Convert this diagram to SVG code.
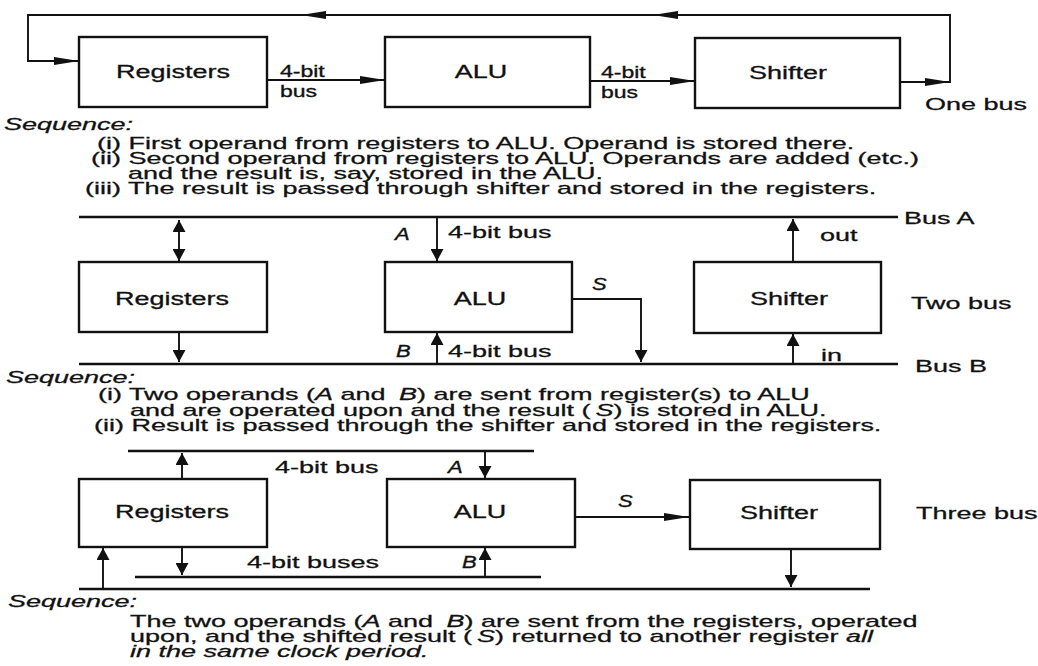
<svg xmlns="http://www.w3.org/2000/svg" width="1038" height="666" viewBox="0 0 1038 666">
  <style>
    .box { fill: #fff; stroke: #111; stroke-width: 2.4; }
    .ln { fill: none; stroke: #111; stroke-width: 1.9; }
    .bus { fill: none; stroke: #111; stroke-width: 2.3; }
    .ha { marker-end: url(#ah); }
    .va { marker-end: url(#av); }
    .t { font-family: "Liberation Sans", Arial, Helvetica, sans-serif; font-size: 27px; fill: #111; stroke: #111; stroke-width: 0.45; }
    .s { font-size: 23px; }
    .v { font-size: 22px; font-style: italic; }
    .i { font-style: italic; }
    .m { text-anchor: middle; }
  </style>
  <defs>
    <!-- long, narrow head for horizontal runs -->
    <marker id="ah" viewBox="0 0 25 8" refX="25" refY="4" markerWidth="25" markerHeight="8" markerUnits="userSpaceOnUse" orient="auto">
      <path d="M0 0 L25 4 L0 8 Z" fill="#111"/>
    </marker>
    <!-- short, broad head for vertical runs -->
    <marker id="av" viewBox="0 0 12 13" refX="12" refY="6.5" markerWidth="12" markerHeight="13" markerUnits="userSpaceOnUse" orient="auto-start-reverse">
      <path d="M0 0 L12 6.5 L0 13 Z" fill="#111"/>
    </marker>
  </defs>

  <rect width="1038" height="666" fill="#fff"/>

  <!-- ===== One-bus organisation ===== -->
  <g id="one-registers">
    <rect class="box" x="79" y="37" width="188" height="70"/>
    <text class="t m" transform="translate(173 78) scale(1 .66)">Registers</text>
  </g>
  <g id="one-alu">
    <rect class="box" x="385" y="37" width="205" height="70"/>
    <text class="t m" transform="translate(481 78) scale(1 .66)">ALU</text>
  </g>
  <g id="one-shifter">
    <rect class="box" x="695" y="38" width="205" height="70"/>
    <text class="t m" transform="translate(788 79) scale(1 .66)">Shifter</text>
  </g>

  <!-- ===== Two-bus organisation ===== -->
  <g id="two-registers">
    <rect class="box" x="79" y="262" width="188" height="70"/>
    <text class="t m" transform="translate(172 305) scale(1 .66)">Registers</text>
  </g>
  <g id="two-alu">
    <rect class="box" x="385" y="262" width="187" height="70"/>
    <text class="t m" transform="translate(480 305) scale(1 .66)">ALU</text>
  </g>
  <g id="two-shifter">
    <rect class="box" x="694" y="262" width="187" height="71"/>
    <text class="t m" transform="translate(789 305) scale(1 .66)">Shifter</text>
  </g>

  <!-- ===== Three-bus organisation ===== -->
  <g id="three-registers">
    <rect class="box" x="79" y="479" width="188" height="68"/>
    <text class="t m" transform="translate(172 518) scale(1 .66)">Registers</text>
  </g>
  <g id="three-alu">
    <rect class="box" x="387" y="479" width="188" height="68"/>
    <text class="t m" transform="translate(480 518) scale(1 .66)">ALU</text>
  </g>
  <g id="three-shifter">
    <rect class="box" x="690" y="480" width="190" height="69"/>
    <text class="t m" transform="translate(779 519) scale(1 .66)">Shifter</text>
  </g>

  <!-- ===== Buses and data paths ===== -->
  <g id="connectors">
    <!-- one bus: loop back to the registers -->
    <path class="ln ha" d="M267 80 H385"/>
    <path class="ln ha" d="M590 81 H695"/>
    <path class="ln ha" d="M900 82 H950"/>
    <path class="ln ha" d="M950 83 V15 H653"/>
    <path class="ln ha" d="M653 15 H301"/>
    <path class="ln ha" d="M301 15 H28 V61 H79"/>

    <!-- two bus -->
    <path class="bus" d="M79 217 H898"/>
    <path class="bus" d="M79 364 H898"/>
    <path class="ln va" d="M179 220 V261" style="marker-start:url(#av)"/>
    <path class="ln va" d="M179 332 V362"/>
    <path class="ln va" d="M437 217 V261"/>
    <path class="ln va" d="M437 364 V333"/>
    <path class="ln va" d="M572 299 H641 V362"/>
    <path class="ln va" d="M793 262 V219"/>
    <path class="ln va" d="M793 364 V334"/>

    <!-- three bus -->
    <path class="bus" d="M128 451 H534"/>
    <path class="bus" d="M135 577 H541"/>
    <path class="bus" d="M79 589 H870"/>
    <path class="ln va" d="M182 479 V453"/>
    <path class="ln va" d="M485 451 V478"/>
    <path class="ln ha" d="M575 517 H689"/>
    <path class="ln va" d="M182 547 V575"/>
    <path class="ln va" d="M485 577 V548"/>
    <path class="ln va" d="M103 589 V548"/>
    <path class="ln va" d="M791 549 V587"/>
  </g>

  <!-- ===== Path and bus labels ===== -->
  <g id="labels">
    <text class="t s" transform="translate(280 77) scale(1 .68)">4-bit</text>
    <text class="t s" transform="translate(280 97) scale(1 .68)">bus</text>
    <text class="t s" transform="translate(601 78) scale(1 .68)">4-bit</text>
    <text class="t s" transform="translate(601 98) scale(1 .68)">bus</text>
    <text class="t" transform="translate(925 110) scale(1 .6)">One bus</text>

    <text class="t v" transform="translate(395 240) scale(1 .75)">A</text>
    <text class="t" transform="translate(448 238) scale(1 .6)">4-bit bus</text>
    <text class="t v" transform="translate(396 357) scale(1 .75)">B</text>
    <text class="t" transform="translate(448 357) scale(1 .6)">4-bit bus</text>
    <text class="t v" transform="translate(592 290) scale(1 .75)">S</text>
    <text class="t" transform="translate(820 241) scale(1 .6)">out</text>
    <text class="t" transform="translate(821 361) scale(1 .6)">in</text>
    <text class="t" transform="translate(904 224) scale(1 .6)">Bus A</text>
    <text class="t" transform="translate(911 309) scale(1 .6)">Two bus</text>
    <text class="t" transform="translate(915 372) scale(1 .6)">Bus B</text>

    <text class="t" transform="translate(275 473) scale(1 .6)">4-bit bus</text>
    <text class="t v" transform="translate(448 473) scale(1 .75)">A</text>
    <text class="t v" transform="translate(618 507) scale(1 .75)">S</text>
    <text class="t" transform="translate(247 568) scale(1 .6)">4-bit buses</text>
    <text class="t v" transform="translate(462 568) scale(1 .75)">B</text>
    <text class="t" transform="translate(916 519) scale(1 .6)">Three bus</text>
  </g>

  <!-- ===== Operating sequences ===== -->
  <g id="notes">
    <text class="t i" transform="translate(4 130) scale(1 .6)">Sequence:</text>
    <text class="t" transform="translate(97 149) scale(1 .6)">(i) First operand from registers to ALU. Operand is stored there.</text>
    <text class="t" transform="translate(91 164) scale(1 .6)">(ii) Second operand from registers to ALU. Operands are added (etc.)</text>
    <text class="t" transform="translate(128 179) scale(1 .6)">and the result is, say, stored in the ALU.</text>
    <text class="t" transform="translate(85 194) scale(1 .6)">(iii) The result is passed through shifter and stored in the registers.</text>

    <text class="t i" transform="translate(6 383) scale(1 .6)">Sequence:</text>
    <text class="t" transform="translate(98 400) scale(1 .6)">(i) Two operands (<tspan class="i">A</tspan> and <tspan class="i" dx="6">B</tspan>) are sent from register(s) to ALU</text>
    <text class="t" transform="translate(130 415.5) scale(1 .6)">and are operated upon and the result (<tspan class="i" dx="5">S</tspan>) is stored in ALU.</text>
    <text class="t" transform="translate(94 431) scale(1 .6)">(ii) Result is passed through the shifter and stored in the registers.</text>

    <text class="t i" transform="translate(8 607) scale(1 .6)">Sequence:</text>
    <text class="t" transform="translate(130 627) scale(1 .6)">The two operands (<tspan class="i">A</tspan> and <tspan class="i" dx="6">B</tspan>) are sent from the registers, operated</text>
    <text class="t" transform="translate(130 642) scale(1 .6)">upon, and the shifted result (<tspan class="i" dx="5">S</tspan>) returned to another register <tspan class="i">all</tspan></text>
    <text class="t i" transform="translate(130 657) scale(1 .6)">in the same clock period.</text>
  </g>
</svg>
